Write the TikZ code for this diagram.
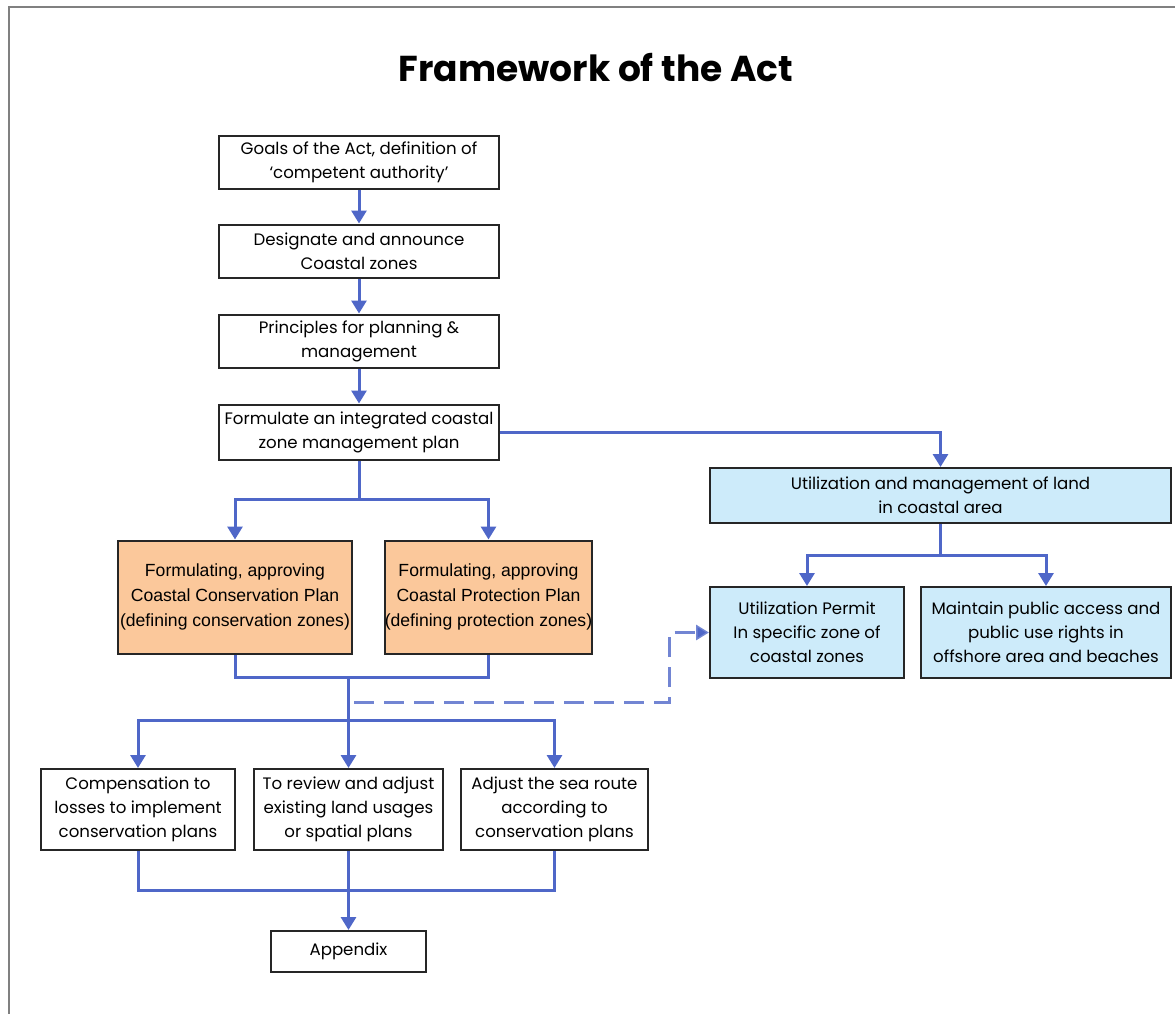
\documentclass[tikz,border=0pt]{standalone}
\usepackage{fontspec}
\setmainfont{Poppins}
\newfontfamily\arialfont{Liberation Sans}
\usetikzlibrary{arrows.meta}
\definecolor{linkblue}{HTML}{4F67C8}
\definecolor{planorange}{HTML}{FBC89B}
\definecolor{landblue}{HTML}{CDEBFA}

\begin{document}
\begin{tikzpicture}[x=0.5pt,y=-0.5pt,
    box/.style={rectangle,draw=black!85,line width=1pt,align=center,inner sep=0pt,
                font=\fontsize{8.3}{12}\selectfont,minimum width=140pt,minimum height=26.5pt},
    plan/.style={box,fill=planorange,font=\arialfont\fontsize{8.8}{12.6}\selectfont,minimum height=56.5pt},
    land/.style={box,fill=landblue,minimum height=45.5pt},
    link/.style={draw=linkblue,line width=1.5pt},
    arr/.style={link,-{Triangle[width=7.5pt,length=6.5pt]}}
                   ]

    \clip (0,0) rectangle (1175,1014);
    \useasboundingbox (0,0) rectangle (1175,1014);
    \draw[gray,line width=1.2pt] (9,7) rectangle (1220,1060);

    \node[font=\bfseries\fontsize{18}{22}\selectfont](title) at (596,68) {Framework of the Act};

    \node[box](goals) at (359,162) {Goals of the Act, definition of\\`competent authority'};
    \node[box](zones) at (359,251) {Designate and announce\\Coastal zones};
    \node[box](princ) at (359,341) {Principles for planning \&\\management};
    \node[box,minimum height=27.5pt](zmp) at (359,432) {Formulate an integrated coastal\\zone management plan};

    \node[plan,minimum width=117pt](cons) at (235,597) {Formulating, approving\\Coastal Conservation Plan\\(defining conservation zones)};
    \node[plan,minimum width=103.5pt](prot) at (488.5,597) {Formulating, approving\\Coastal Protection Plan\\(defining protection zones)};

    \node[land,minimum width=230.5pt,minimum height=27.5pt](use) at (940.5,495.5) {Utilization and management of land\\in coastal area};
    \node[land,minimum width=97pt](permit) at (807,632.5) {Utilization Permit\\In specific zone of\\coastal zones};
    \node[land,minimum width=125pt](access) at (1046,632.5) {Maintain public access and\\public use rights in\\offshore area and beaches};

    \node[box,minimum width=97pt,minimum height=40.5pt](comp) at (138,809.5) {Compensation to\\losses to implement\\conservation plans};
    \node[box,minimum width=94.5pt,minimum height=40.5pt](review) at (348.5,809.5) {To review and adjust\\existing land usages\\or spatial plans};
    \node[box,minimum width=93.5pt,minimum height=40.5pt](route) at (554.5,809.5) {Adjust the sea route\\according to\\conservation plans};
    \node[box,minimum width=77.5pt,minimum height=20.5pt](app) at (348.5,951.5) {Appendix};

    % junctions
    \coordinate (j1) at (359,499);
    \coordinate (j2) at (940.5,555);
    \coordinate (j3) at (348.5,677);
    \coordinate (j4) at (348.5,720);
    \coordinate (j5) at (348.5,890);
    \coordinate (d0) at (354,702);
    \coordinate (d1) at (669,632.5);

    \path (goals) edge[arr] (zones)
    (zones) edge[arr] (princ)
    (princ) edge[arr] (zmp);
    \draw[arr] (zmp.east) -| (use.north);
    \draw[link] (zmp.south) -- (j1);
    \draw[arr] (j1) -| (cons.north);
    \draw[arr] (j1) -| (prot.north);
    \draw[link] (use.south) -- (j2);
    \draw[arr] (j2) -| (permit.north);
    \draw[arr] (j2) -| (access.north);
    \draw[link] (cons.south) |- (j3) -| (prot.south);
    \draw[link] (j3) -- (j4);
    \draw[arr] (j4) -| (comp.north);
    \draw[arr] (j4) -- (review.north);
    \draw[arr] (j4) -| (route.north);
    \draw[arr,draw opacity=0.8,dash pattern=on 10pt off 5pt] (d0) -| (d1) -- (permit.west);
    \draw[link] (comp.south) |- (j5) -| (route.south);
    \draw[arr] (review.south) -- (app.north);

\end{tikzpicture}
\end{document}
